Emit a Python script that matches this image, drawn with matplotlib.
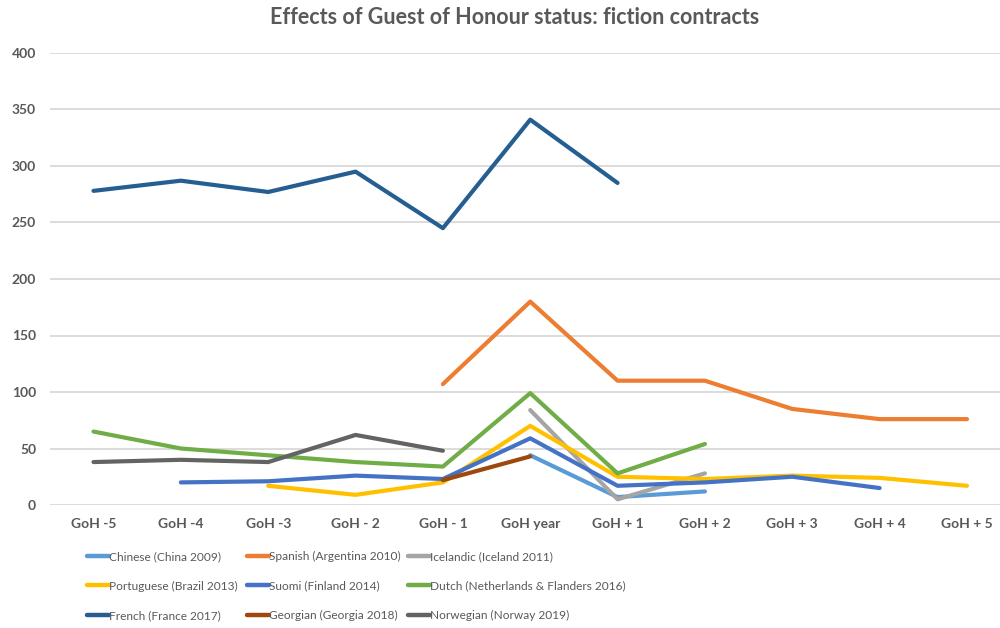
import numpy as np
import matplotlib
matplotlib.use("Agg")
import matplotlib.pyplot as plt
from matplotlib import font_manager as fm

plt.rcParams['font.family'] = ['Lato', 'DejaVu Sans']

categories = ["GoH -5", "GoH -4", "GoH -3", "GoH - 2", "GoH - 1", "GoH year",
              "GoH + 1", "GoH + 2", "GoH + 3", "GoH + 4", "GoH + 5"]
nan = np.nan

chinese    = [nan, nan, nan, nan, nan, 44, 7, 12, nan, nan, nan]
spanish    = [nan, nan, nan, nan, 107, 180, 110, 110, 85, 76, 76]
icelandic  = [nan, nan, nan, nan, nan, 84, 5, 28, nan, nan, nan]
portuguese = [nan, nan, 17, 9, 20, 70, 25, 23, 26, 24, 17]
suomi      = [nan, 20, 21, 26, 23, 59, 17, 20, 25, 15, nan]
dutch      = [65, 50, 44, 38, 34, 99, 28, 54, nan, nan, nan]
french     = [278, 287, 277, 295, 245, 341, 285, nan, nan, nan, nan]
georgian   = [nan, nan, nan, nan, 22, 43, nan, nan, nan, nan, nan]
norwegian  = [38, 40, 38, 62, 48, nan, nan, nan, nan, nan, nan]

series = [
    ("Chinese (China 2009)", chinese, "#5B9BD5"),
    ("Spanish (Argentina 2010)", spanish, "#ED7D31"),
    ("Icelandic (Iceland 2011)", icelandic, "#A5A5A5"),
    ("Portuguese (Brazil 2013)", portuguese, "#FFC000"),
    ("Suomi (Finland 2014)", suomi, "#4472C4"),
    ("Dutch (Netherlands & Flanders 2016)", dutch, "#70AD47"),
    ("French (France 2017)", french, "#255E91"),
    ("Georgian (Georgia 2018)", georgian, "#9E480E"),
    ("Norwegian (Norway 2019)", norwegian, "#636363"),
]

leg_prop = fm.FontProperties(family=['Lato', 'DejaVu Sans'], size=8.6)

fig = plt.figure(figsize=(10, 6.28), dpi=100)
ax = fig.add_axes([0.05, 1 - 505 / 628, 0.95, (505 - 53) / 628])

x = np.arange(len(categories))
handles = {}
for name, vals, col in series:
    h, = ax.plot(x, vals, color=col, lw=3.0, solid_capstyle='round',
                 solid_joinstyle='round', label=name)
    handles[name] = h

ax.set_ylim(0, 400)
ax.set_xlim(-0.498, 10.378)
ax.set_yticks(range(0, 401, 50))
ax.set_xticks(x)
ax.set_xticklabels(categories)
ax.grid(axis='y', color='#D9D9D9', lw=1.3)
ax.set_axisbelow(True)
for s in ax.spines.values():
    s.set_visible(False)
ax.tick_params(axis='both', length=0, colors='#595959', labelsize=10)
ax.tick_params(axis='y', pad=10)
ax.tick_params(axis='x', pad=9)
for lbl in ax.get_xticklabels() + ax.get_yticklabels():
    lbl.set_fontweight('bold')

fig.text(0.515, 1 - 18 / 628, "Effects of Guest of Honour status: fiction contracts",
         ha='center', va='center', fontsize=15.5, color='#595959', fontweight='bold')

names = [s[0] for s in series]
col_x = [87, 247, 408]
for c in range(3):
    idx = [c, c + 3, c + 6]
    leg = fig.legend([handles[names[i]] for i in idx], [names[i] for i in idx],
                     ncol=1, loc='upper left', bbox_to_anchor=(col_x[c] / 1000, 1 - 551 / 628),
                     frameon=False, prop=leg_prop,
                     handlelength=1.8, handletextpad=0.05,
                     labelspacing=1.55, borderaxespad=0, borderpad=0)
    for t in leg.get_texts():
        t.set_color('#595959')
    for l in leg.get_lines():
        l.set_linewidth(3.2)

fig.savefig("out.png", dpi=100)
